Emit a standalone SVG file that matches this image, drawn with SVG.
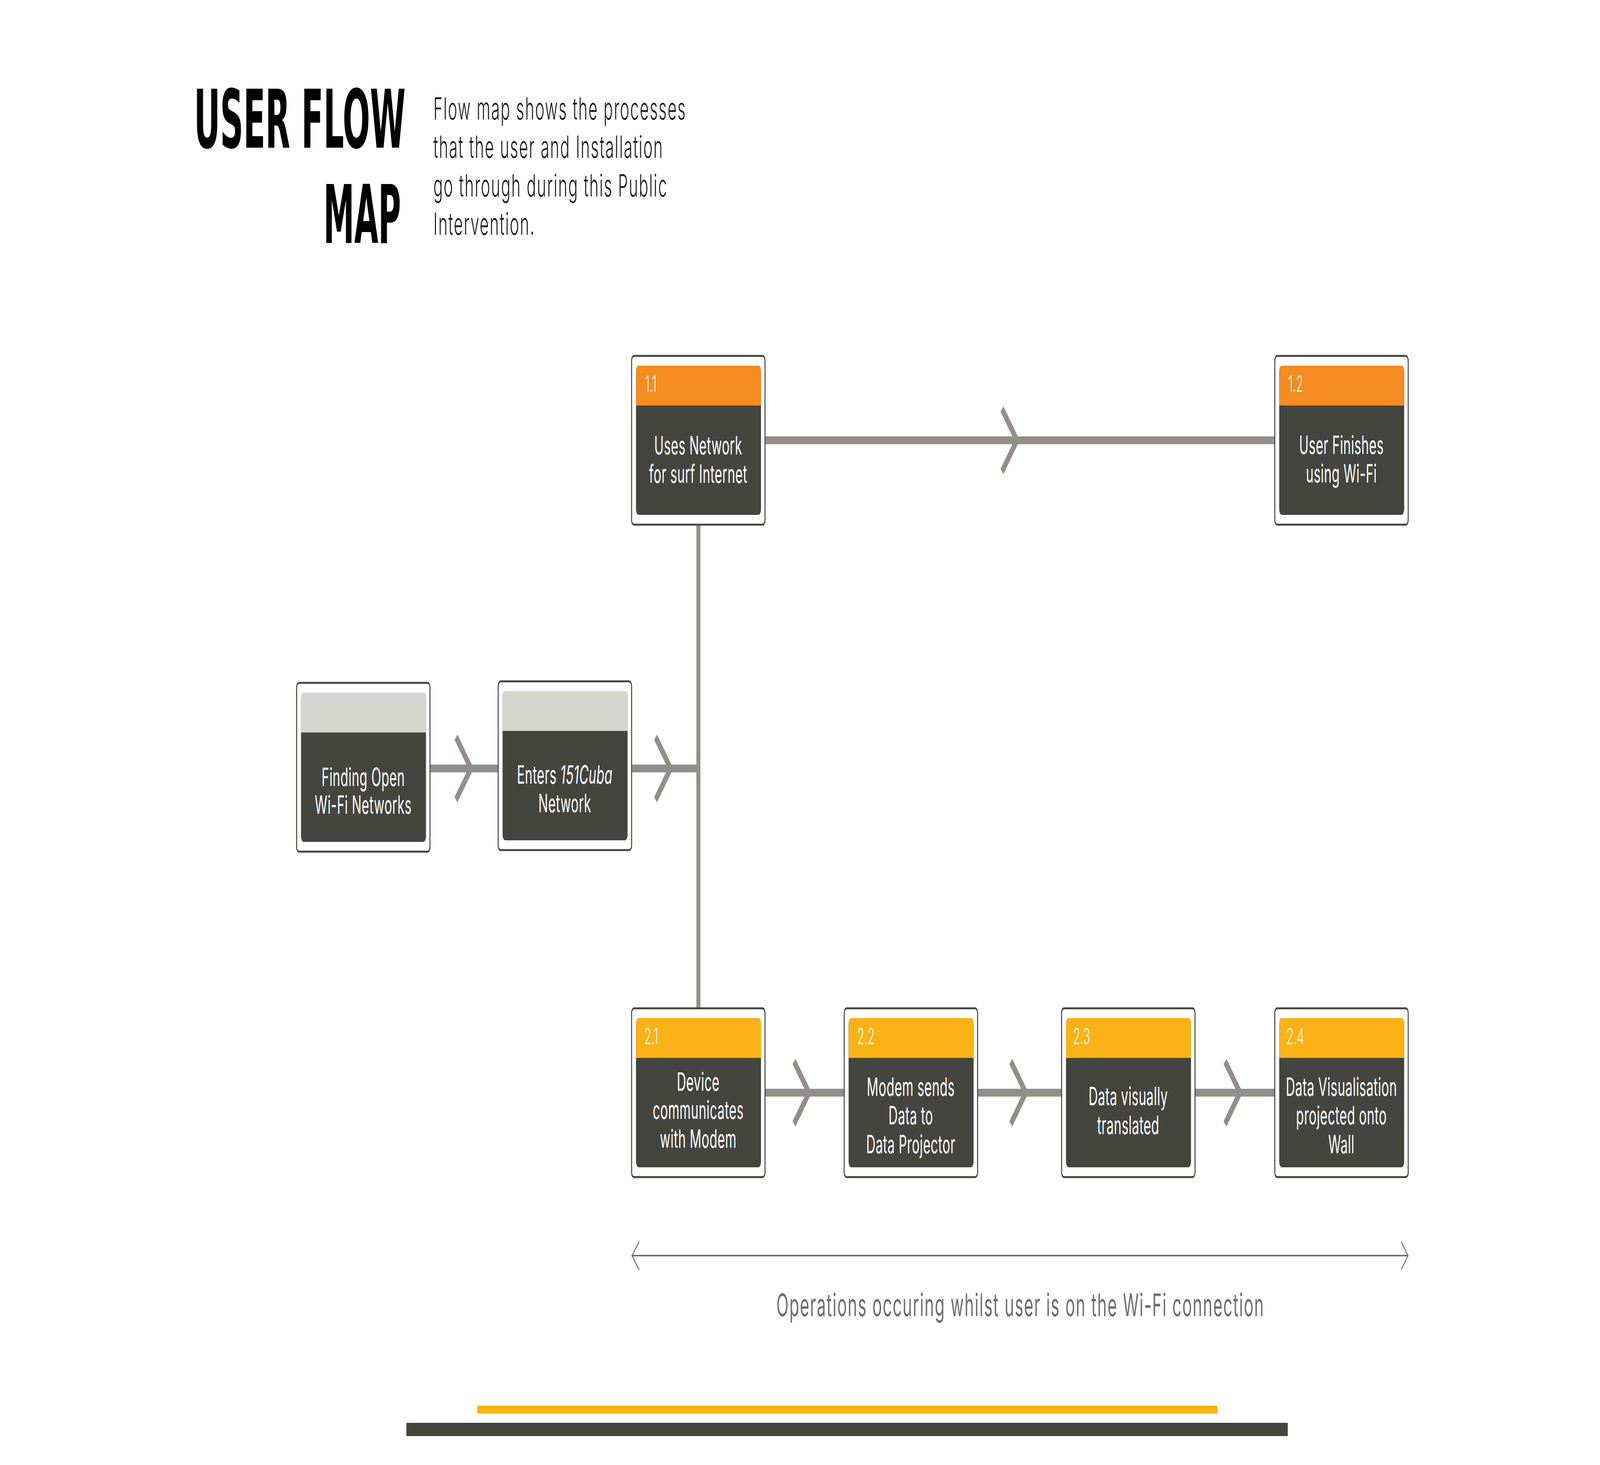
<svg xmlns="http://www.w3.org/2000/svg" width="8000" height="3750" viewBox="0 0 8000 3750" preserveAspectRatio="none" style="width:100vw;height:100vh;display:block">
<style>
.frame{fill:#ffffff;stroke:#45453f;stroke-width:5}
.body{fill:#45453f}
.hdr1{fill:#f48c21}
.hdr2{fill:#fbb216}
.hdr0{fill:#d6d6d1}
.num{font-family:"Inter","Open Sans","DejaVu Sans",sans-serif;font-weight:300;font-size:58px;fill:#ffffff}
.lbl{font-family:"Inter","Open Sans","DejaVu Sans",sans-serif;font-weight:400;font-size:64px;letter-spacing:1px;fill:#ffffff;text-anchor:middle}
.conn{fill:none;stroke:#928f8a;stroke-width:20;stroke-linecap:butt;stroke-linejoin:miter}
.span{fill:none;stroke:#6f6f6f;stroke-width:4}
.title{font-family:"DejaVu Sans Condensed","DejaVu Sans","Liberation Sans",sans-serif;font-weight:bold;font-size:207px;fill:#000000;text-anchor:end}
.desc{font-family:"Inter","Open Sans","DejaVu Sans",sans-serif;font-weight:300;font-size:78px;letter-spacing:4.4px;fill:#1a1a1a}
.cap{font-family:"Inter","Open Sans","DejaVu Sans",sans-serif;font-weight:400;font-size:80px;letter-spacing:3.9px;fill:#6f6f6f;text-anchor:middle}
</style>
<rect x="0" y="0" width="8000" height="3750" fill="#ffffff"/>

<g id="title">
<text class="title" x="2028" y="378" textLength="1058" lengthAdjust="spacingAndGlyphs">USER FLOW</text>
<text class="title" x="2005" y="622" textLength="388" lengthAdjust="spacingAndGlyphs">MAP</text>
</g>
<g id="description">
<text class="desc" x="2167" y="306">Flow map shows the processes</text>
<text class="desc" x="2167" y="404">that the user and Installation</text>
<text class="desc" x="2167" y="503">go through during this Public</text>
<text class="desc" x="2167" y="601">Intervention.</text>
</g>

<g id="connectors">
<path class="conn" d="M2149,1967 H2491"/>
<path class="conn" d="M2280,1887 L2355,1967 L2280,2047"/>
<path class="conn" d="M3157,1967 H3492"/>
<path class="conn" d="M3278,1887 L3353,1967 L3278,2047"/>
<path class="conn" d="M3492,1343 V2581"/>
<path class="conn" d="M3825,1127 H6374"/>
<path class="conn" d="M5010,1047 L5085,1127 L5010,1207"/>
<path class="conn" d="M3825,2797 H4221"/>
<path class="conn" d="M3970,2717 L4045,2797 L3970,2877"/>
<path class="conn" d="M4888,2797 H5308"/>
<path class="conn" d="M5054,2717 L5129,2797 L5054,2877"/>
<path class="conn" d="M5975,2797 H6374"/>
<path class="conn" d="M6125,2717 L6200,2797 L6125,2877"/>
</g>

<g id="node-finding">
<rect class="frame" x="1483" y="1748" width="667" height="432" rx="12"/>
<rect class="body" x="1505" y="1773" width="625" height="382" rx="14"/>
<path class="hdr0" d="M1505,1875 V1787 a14,14 0 0 1 14,-14 H2116 a14,14 0 0 1 14,14 V1875 Z"/>
<text class="lbl"><tspan x="1816" y="2012">Finding Open</tspan><tspan x="1816" y="2083">Wi-Fi Networks</tspan></text>
</g>

<g id="node-enters">
<rect class="frame" x="2491" y="1744" width="667" height="432" rx="12"/>
<rect class="body" x="2513" y="1769" width="625" height="382" rx="14"/>
<path class="hdr0" d="M2513,1871 V1783 a14,14 0 0 1 14,-14 H3124 a14,14 0 0 1 14,14 V1871 Z"/>
<text class="lbl"><tspan x="2824" y="2006">Enters <tspan font-style="italic">151Cuba</tspan></tspan><tspan x="2824" y="2079">Network</tspan></text>
</g>

<g id="node-1-1">
<rect class="frame" x="3158" y="911" width="667" height="432" rx="12"/>
<rect class="body" x="3180" y="936" width="625" height="382" rx="14"/>
<path class="hdr1" d="M3180,1038 V950 a14,14 0 0 1 14,-14 H3791 a14,14 0 0 1 14,14 V1038 Z"/>
<text class="num" x="3225" y="1003">1.1</text>
<text class="lbl"><tspan x="3491" y="1163">Uses Network</tspan><tspan x="3491" y="1236">for surf Internet</tspan></text>
</g>

<g id="node-1-2">
<rect class="frame" x="6374" y="911" width="667" height="432" rx="12"/>
<rect class="body" x="6396" y="936" width="625" height="382" rx="14"/>
<path class="hdr1" d="M6396,1038 V950 a14,14 0 0 1 14,-14 H7007 a14,14 0 0 1 14,14 V1038 Z"/>
<text class="num" x="6441" y="1003">1.2</text>
<text class="lbl"><tspan x="6707" y="1162">User Finishes</tspan><tspan x="6707" y="1235">using Wi-Fi</tspan></text>
</g>

<g id="node-2-1">
<rect class="frame" x="3158" y="2581" width="667" height="432" rx="12"/>
<rect class="body" x="3180" y="2606" width="625" height="382" rx="14"/>
<path class="hdr2" d="M3180,2708 V2620 a14,14 0 0 1 14,-14 H3791 a14,14 0 0 1 14,14 V2708 Z"/>
<text class="num" x="3221" y="2673">2.1</text>
<text class="lbl"><tspan x="3491" y="2792">Device</tspan><tspan x="3491" y="2864">communicates</tspan><tspan x="3491" y="2938">with Modem</tspan></text>
</g>

<g id="node-2-2">
<rect class="frame" x="4221" y="2581" width="667" height="432" rx="12"/>
<rect class="body" x="4243" y="2606" width="625" height="382" rx="14"/>
<path class="hdr2" d="M4243,2708 V2620 a14,14 0 0 1 14,-14 H4854 a14,14 0 0 1 14,14 V2708 Z"/>
<text class="num" x="4286" y="2673">2.2</text>
<text class="lbl"><tspan x="4554" y="2805">Modem sends</tspan><tspan x="4554" y="2878">Data to</tspan><tspan x="4554" y="2952">Data Projector</tspan></text>
</g>

<g id="node-2-3">
<rect class="frame" x="5308" y="2581" width="667" height="432" rx="12"/>
<rect class="body" x="5330" y="2606" width="625" height="382" rx="14"/>
<path class="hdr2" d="M5330,2708 V2620 a14,14 0 0 1 14,-14 H5941 a14,14 0 0 1 14,14 V2708 Z"/>
<text class="num" x="5365" y="2673">2.3</text>
<text class="lbl"><tspan x="5641" y="2829">Data visually</tspan><tspan x="5641" y="2903">translated</tspan></text>
</g>

<g id="node-2-4">
<rect class="frame" x="6374" y="2581" width="667" height="432" rx="12"/>
<rect class="body" x="6396" y="2606" width="625" height="382" rx="14"/>
<path class="hdr2" d="M6396,2708 V2620 a14,14 0 0 1 14,-14 H7007 a14,14 0 0 1 14,14 V2708 Z"/>
<text class="num" x="6432" y="2673">2.4</text>
<text class="lbl"><tspan x="6707" y="2805">Data Visualisation</tspan><tspan x="6707" y="2878">projected onto</tspan><tspan x="6707" y="2952">Wall</tspan></text>
</g>

<g id="span-arrow">
<path class="span" d="M3160,3214 H7040"/>
<path class="span" d="M3196,3178 L3160,3214 L3196,3251"/>
<path class="span" d="M7006,3178 L7040,3214 L7006,3250"/>
<text class="cap" x="5102" y="3369">Operations occuring whilst user is on the Wi-Fi connection</text>
</g>

<g id="bars">
<rect x="2386" y="3598" width="3701" height="20" fill="#fbb216"/>
<rect x="2032" y="3642" width="4407" height="34" fill="#45453f"/>
</g>
</svg>
